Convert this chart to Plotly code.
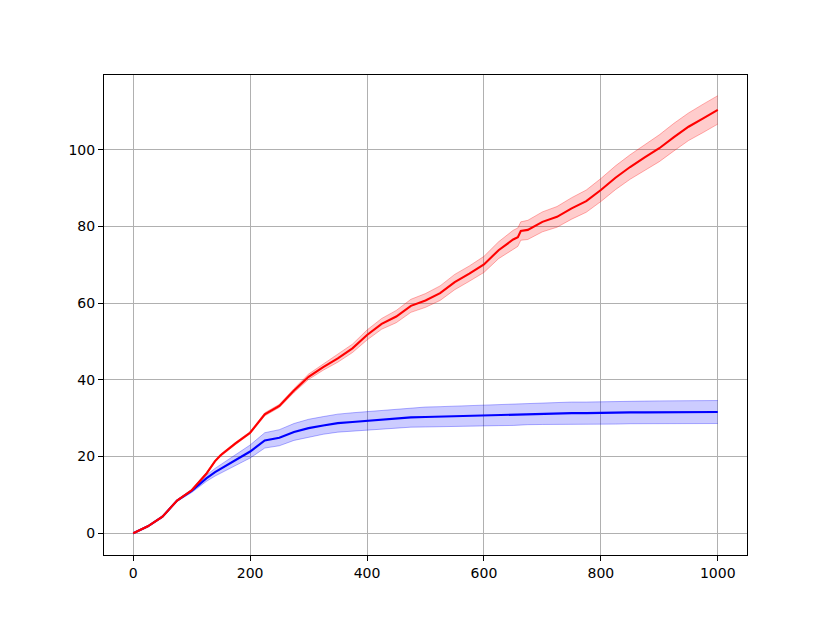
import plotly.graph_objects as go

# sample positions
steps = [0, 25, 50, 60, 75, 100, 125, 140, 150, 175, 200, 225, 250, 275, 300, 325, 350,
         375, 400, 425, 450, 475, 500, 525, 550, 575, 600, 625, 650, 658, 663, 675, 700,
         725, 750, 775, 800, 825, 850, 875, 900, 925, 950, 975, 1000]

red_mean = [0.0, 1.8, 4.3, 5.9, 8.5, 11.2, 15.5, 18.8, 20.4, 23.4, 26.2, 31.0, 33.2,
            37.2, 40.8, 43.3, 45.6, 48.2, 51.7, 54.6, 56.5, 59.3, 60.7, 62.6, 65.5,
            67.7, 70.1, 73.8, 76.6, 77.2, 78.8, 79.1, 81.2, 82.5, 84.7, 86.6, 89.5,
            92.7, 95.5, 98.0, 100.4, 103.3, 106.0, 108.2, 110.4]
red_err = [0.1, 0.2, 0.2, 0.2, 0.2, 0.2, 0.3, 0.3, 0.3, 0.3, 0.3, 0.4, 0.4, 0.5, 0.7,
           0.8, 1.0, 1.1, 1.3, 1.4, 1.6, 1.7, 1.8, 1.9, 2.0, 2.0, 2.1, 2.2, 2.4, 2.4,
           2.4, 2.5, 2.6, 2.7, 2.8, 2.9, 3.0, 3.1, 3.2, 3.4, 3.5, 3.6, 3.6, 3.7, 3.7]

blue_mean = [0.0, 1.8, 4.3, 5.9, 8.5, 11.0, 14.3, 15.9, 16.8, 19.0, 21.3, 24.2, 24.9,
             26.4, 27.4, 28.1, 28.7, 29.0, 29.3, 29.6, 29.9, 30.2, 30.3, 30.4, 30.5,
             30.6, 30.7, 30.8, 30.9, 31.0, 31.0, 31.1, 31.2, 31.2, 31.3, 31.3, 31.4,
             31.4, 31.5, 31.5, 31.5, 31.5, 31.6, 31.6, 31.6]
blue_err = [0.1, 0.1, 0.2, 0.2, 0.2, 0.4, 0.8, 1.0, 1.1, 1.4, 1.7, 2.0, 2.1, 2.2, 2.3,
            2.3, 2.35, 2.4, 2.4, 2.45, 2.5, 2.55, 2.6, 2.6, 2.65, 2.7, 2.75, 2.75, 2.8,
            2.8, 2.8, 2.8, 2.85, 2.85, 2.9, 2.9, 2.9, 2.95, 2.95, 2.95, 3.0, 3.0, 3.0,
            3.0, 3.0]


def add_band(fig, mean, err, rgb):
    lower = [m - e for m, e in zip(mean, err)]
    upper = [m + e for m, e in zip(mean, err)]
    edge = dict(color=f'rgba({rgb},0.3)', width=1)
    fig.add_trace(go.Scatter(x=steps, y=lower, mode='lines', line=edge,
                             showlegend=False, hoverinfo='skip'))
    fig.add_trace(go.Scatter(x=steps, y=upper, mode='lines', line=edge,
                             fill='tonexty', fillcolor=f'rgba({rgb},0.2)',
                             showlegend=False, hoverinfo='skip'))
    fig.add_trace(go.Scatter(x=steps, y=mean, mode='lines',
                             line=dict(color=f'rgb({rgb})', width=2.1),
                             showlegend=False))


fig = go.Figure()
add_band(fig, blue_mean, blue_err, '0,0,255')
add_band(fig, red_mean, red_err, '255,0,0')

axis_style = dict(
    showgrid=True, gridcolor='#b0b0b0', gridwidth=1.1,
    zeroline=False,
    showline=True, linecolor='black', linewidth=1.1, mirror=True,
    ticks='outside', ticklen=5, tickwidth=1.1, tickcolor='black',
    tickfont=dict(family='DejaVu Sans', size=14, color='black'),
)

# the page body adds an 8px offset, so margins are shifted to compensate
fig.update_layout(
    width=830, height=623, autosize=False,
    margin=dict(l=96, r=91, t=67, b=76, pad=0),
    plot_bgcolor='white', paper_bgcolor='white',
    showlegend=False,
)
fig.update_xaxes(range=[-50, 1050], tickvals=[0, 200, 400, 600, 800, 1000], **axis_style)
fig.update_yaxes(range=[-5.69, 119.5], tickvals=[0, 20, 40, 60, 80, 100], **axis_style)

fig.write_html("out.html")
